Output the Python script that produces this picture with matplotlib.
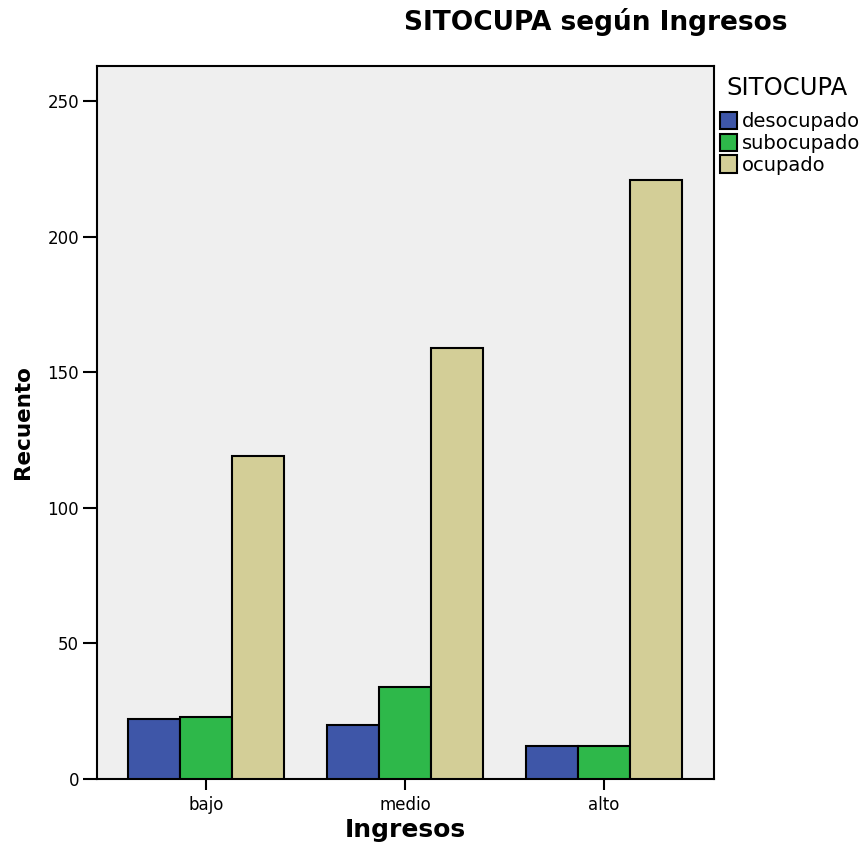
import matplotlib
matplotlib.use("Agg")
import matplotlib.pyplot as plt
import numpy as np

categories = ["bajo", "medio", "alto"]
series_names = ["desocupado", "subocupado", "ocupado"]
desocupado = [22, 20, 12]
subocupado = [23, 34, 12]
ocupado = [119, 159, 221]
colors = ["#3e56a8", "#2eb84a", "#d3ce97"]
yticks = [0, 50, 100, 150, 200, 250]

plt.rcParams['font.family'] = ['DejaVu Sans']

fig = plt.figure(figsize=(8.67, 8.49), dpi=100)
ax = fig.add_axes([97/867, 70/849, 617/867, 713/849])
ax.set_facecolor("#efefef")

x = np.arange(len(categories))
w = 0.262
handles = []
for i, (vals, name) in enumerate(zip([desocupado, subocupado, ocupado], series_names)):
    b = ax.bar(x + (i - 1) * w, vals, width=w, color=colors[i], edgecolor="black",
               linewidth=1.5, label=name, zorder=3)
    handles.append(b)

ax.set_xlim(-0.548, 2.553)
ax.set_ylim(0, 263)
ax.set_yticks(yticks)
ax.set_xticks(x)
ax.set_xticklabels(categories)
ax.tick_params(axis='y', direction='out', length=10, width=1.5, labelsize=12, pad=3)
ax.tick_params(axis='x', direction='out', length=8, width=1.5, labelsize=12, pad=4)
for s in ax.spines.values():
    s.set_linewidth(1.5)

ax.set_ylabel("Recuento", fontsize=15.5, fontweight='bold', labelpad=10)
ax.set_xlabel("Ingresos", fontsize=18, fontweight='bold', labelpad=3)

fig.text(596/867, 1 - 22/849, "SITOCUPA según Ingresos", fontsize=19, fontweight='bold',
         ha='center', va='center')

fig.text(726/867, 1 - 88/849, "SITOCUPA", fontsize=17.5, ha='left', va='center')

leg = fig.legend(handles=handles, labels=series_names, loc='upper left',
                 bbox_to_anchor=(718/867, 1 - 110/849),
                 frameon=False, fontsize=14,
                 handlelength=0.9, handleheight=1.0, handletextpad=0.25,
                 labelspacing=0.12, borderaxespad=0.0, borderpad=0.1)

fig.savefig("out.png", dpi=100)
